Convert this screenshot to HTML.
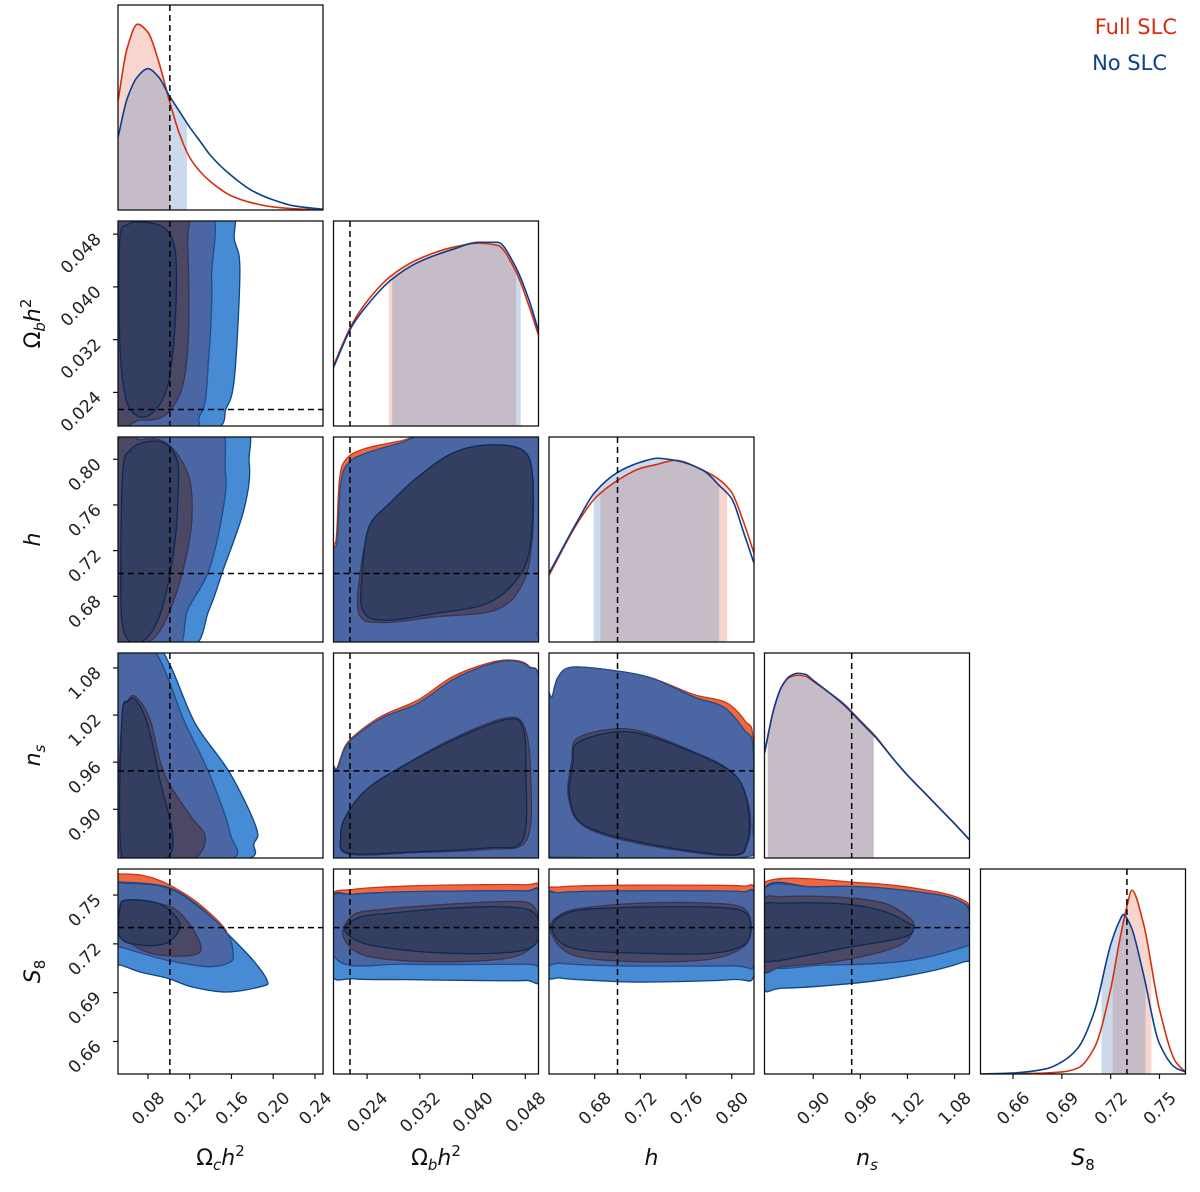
<!DOCTYPE html>
<html><head><meta charset="utf-8"><title>Corner plot</title>
<style>
html,body{margin:0;padding:0;background:#fff;}
svg{display:block;font-family:"DejaVu Sans","Liberation Sans",sans-serif;}
</style></head>
<body>
<svg id="fig" width="1200" height="1192" viewBox="0 0 1200 1192" xmlns="http://www.w3.org/2000/svg">
<text x="1177" y="34" text-anchor="end" font-size="21" fill="#d4300f">Full SLC</text>
<text x="1167" y="70" text-anchor="end" font-size="21" fill="#0b3f8e">No SLC</text>
</svg>
<script>
// ---------- axes data ----------
const ranges = [[0.0513,0.2477],[0.0189,0.0500],[0.640,0.8195],[0.838,1.099],[0.640,0.766]];
const ticks0 = [0.08,0.12,0.16,0.20,0.24];
const ticks1 = [0.024,0.032,0.040,0.048];
const ticks2 = [0.68,0.72,0.76,0.80];
const ticks3 = [0.90,0.96,1.02,1.08];
const ticks4 = [0.66,0.69,0.72,0.75];
const tickLabels0 = ["0.08","0.12","0.16","0.20","0.24"];
const tickLabels1 = ["0.024","0.032","0.040","0.048"];
const tickLabels2 = ["0.68","0.72","0.76","0.80"];
const tickLabels3 = ["0.90","0.96","1.02","1.08"];
const tickLabels4 = ["0.66","0.69","0.72","0.75"];
const truths = [0.101,0.0214,0.70,0.949,0.730];

// ---------- 1D marginals (fraction of panel height) ----------
const g0 = [0.0513,0.06,0.07,0.08,0.09,0.10,0.11,0.12,0.13,0.14,0.16,0.18,0.20,0.22,0.2477];
const red0 = [0.54,0.80,0.92,0.88,0.74,0.55,0.38,0.26,0.19,0.14,0.07,0.035,0.015,0.006,0.001];
const blue0 = [0.36,0.55,0.66,0.70,0.66,0.57,0.49,0.41,0.34,0.27,0.17,0.095,0.05,0.02,0.004];
const g1 = [0.0189,0.0218,0.0243,0.0275,0.0317,0.037,0.0409,0.0438,0.0465,0.0486,0.050];
const red1 = [0.30,0.51,0.63,0.74,0.825,0.885,0.905,0.895,0.77,0.59,0.45];
const blue1 = [0.29,0.50,0.61,0.72,0.81,0.875,0.91,0.91,0.79,0.62,0.47];
const g2 = [0.640,0.665,0.68,0.70,0.72,0.735,0.75,0.775,0.79,0.80,0.81,0.8195];
const red2 = [0.33,0.59,0.71,0.80,0.86,0.88,0.90,0.85,0.80,0.74,0.60,0.44];
const blue2 = [0.34,0.60,0.74,0.84,0.89,0.91,0.90,0.85,0.77,0.71,0.55,0.39];
const g3 = [0.838,0.85,0.86,0.87,0.88,0.89,0.90,0.92,0.94,0.96,0.98,1.00,1.02,1.04,1.06,1.08,1.099];
const red3 = [0.52,0.74,0.85,0.895,0.905,0.90,0.875,0.82,0.76,0.68,0.60,0.50,0.41,0.33,0.25,0.17,0.09];
const blue3 = [0.52,0.74,0.85,0.90,0.915,0.91,0.88,0.82,0.755,0.675,0.595,0.50,0.41,0.33,0.25,0.17,0.09];
const g4 = [0.640,0.66,0.68,0.69,0.70,0.71,0.72,0.725,0.728,0.73,0.733,0.74,0.75,0.76,0.766];
const red4 = [0,0.002,0.005,0.01,0.03,0.13,0.42,0.64,0.76,0.83,0.91,0.75,0.32,0.06,0.01];
const blue4 = [0,0.005,0.025,0.06,0.13,0.31,0.64,0.75,0.79,0.77,0.72,0.50,0.15,0.03,0.01];
const redShade = [[0.0513,0.1011],[0.0273,0.0466],[0.685,0.796],[0.842,0.977],[0.7213,0.745]];
const blueShade = [[0.0513,0.1174],[0.0278,0.0473],[0.679,0.789],[0.842,0.977],[0.7144,0.7414]];

// ---------- 2D contours [x, y] in data units ----------
const p10Bout = [[0.034,0.053],[0.151,0.053],[0.163,0.047],[0.168,0.0433],[0.166,0.0335],[0.162,0.0251],[0.155,0.0216],[0.139,0.0183],[0.034,0.0183]];
const p10Mid = [[0.034,0.053],[0.135,0.053],[0.141,0.0415],[0.140,0.0335],[0.138,0.0289],[0.135,0.0228],[0.129,0.0203],[0.120,0.0183],[0.034,0.0183]];
const p10Purple = [[0.034,0.053],[0.113,0.053],[0.118,0.0464],[0.119,0.0335],[0.1145,0.0259],[0.105,0.0221],[0.0915,0.0201],[0.072,0.0198],[0.034,0.020]];
const p10Navy = [[0.053,0.0471],[0.061,0.0495],[0.077,0.0498],[0.096,0.0489],[0.106,0.0456],[0.107,0.038],[0.103,0.0289],[0.096,0.0236],[0.082,0.0206],[0.068,0.0206],[0.058,0.0236],[0.053,0.032]];

const p20Bout = [[0.034,0.834],[0.163,0.834],[0.177,0.797],[0.172,0.756],[0.152,0.703],[0.1385,0.668],[0.118,0.633],[0.034,0.633]];
const p20Mid = [[0.034,0.834],[0.141,0.834],[0.154,0.791],[0.152,0.756],[0.1385,0.703],[0.118,0.668],[0.105,0.633],[0.034,0.633]];
const p20Purple = [[0.051,0.8125],[0.072,0.817],[0.0915,0.817],[0.107,0.806],[0.120,0.782],[0.122,0.747],[0.116,0.712],[0.105,0.677],[0.0915,0.650],[0.077,0.639],[0.051,0.639]];
const p20Navy = [[0.056,0.791],[0.063,0.808],[0.077,0.815],[0.096,0.814],[0.108,0.799],[0.109,0.773],[0.106,0.729],[0.098,0.6855],[0.0895,0.659],[0.077,0.642],[0.063,0.640],[0.055,0.659],[0.054,0.712]];

const p30Bout = [[0.034,1.1155],[0.082,1.1155],[0.101,1.084],[0.125,1.010],[0.1586,0.946],[0.1835,0.8775],[0.1816,0.857],[0.168,0.8355],[0.034,0.8355]];
const p30Mid = [[0.034,1.1155],[0.082,1.109],[0.1155,1.010],[0.1385,0.946],[0.1586,0.870],[0.155,0.8355],[0.034,0.8355]];
const p30Purple = [[0.055,1.014],[0.061,1.039],[0.0685,1.043],[0.082,1.014],[0.0954,0.946],[0.120,0.893],[0.1346,0.867],[0.129,0.842],[0.111,0.8355],[0.055,0.8355]];
const p30Navy = [[0.055,1.014],[0.061,1.037],[0.0685,1.039],[0.080,1.007],[0.0915,0.937],[0.103,0.874],[0.101,0.842],[0.082,0.8355],[0.055,0.842]];

const p40Red = [[0.040,0.763],[0.0532,0.763],[0.075,0.762],[0.098,0.757],[0.130,0.744],[0.1557,0.726],[0.123,0.725],[0.040,0.728]];
const p40Bout = [[0.040,0.758],[0.0532,0.758],[0.098,0.755],[0.130,0.7426],[0.1557,0.7266],[0.1806,0.710],[0.194,0.6977],[0.190,0.694],[0.1557,0.6904],[0.123,0.6934],[0.098,0.699],[0.0724,0.7027],[0.0532,0.707],[0.040,0.707]];
const p40Mid = [[0.040,0.7575],[0.0532,0.7575],[0.098,0.7545],[0.130,0.742],[0.1557,0.7266],[0.1615,0.714],[0.158,0.7085],[0.1365,0.706],[0.098,0.710],[0.0724,0.7145],[0.0532,0.718],[0.040,0.718]];
const p40Purple = [[0.0532,0.743],[0.060,0.7469],[0.0887,0.7451],[0.1107,0.739],[0.130,0.7205],[0.1232,0.7131],[0.082,0.7143],[0.0532,0.7266]];
const p40Navy = [[0.0532,0.742],[0.060,0.7469],[0.0887,0.7451],[0.105,0.738],[0.1107,0.730],[0.098,0.7205],[0.0724,0.7193],[0.0532,0.7242]];

const p21Red = [[0.0185,0.638],[0.0185,0.72],[0.0193,0.73],[0.0198,0.782],[0.0208,0.80],[0.0235,0.809],[0.029,0.816],[0.0343,0.822],[0.052,0.822],[0.052,0.66],[0.0498,0.648],[0.048,0.638]];
const p21Mid = [[0.0185,0.638],[0.0185,0.718],[0.0194,0.7266],[0.020,0.779],[0.0212,0.797],[0.0239,0.8055],[0.029,0.8142],[0.0343,0.822],[0.052,0.822],[0.052,0.66],[0.0498,0.648],[0.048,0.638]];
const p21Purple = [[0.0230,0.703],[0.0243,0.735],[0.0275,0.757],[0.0317,0.782],[0.037,0.803],[0.0423,0.811],[0.0476,0.807],[0.0491,0.7845],[0.0490,0.7266],[0.0475,0.690],[0.0435,0.668],[0.0343,0.662],[0.0265,0.657],[0.0228,0.664]];
const p21Navy = [[0.0233,0.703],[0.0243,0.741],[0.0275,0.762],[0.0317,0.7845],[0.037,0.8055],[0.0423,0.8125],[0.0476,0.808],[0.0491,0.7845],[0.0488,0.7266],[0.047,0.697],[0.0423,0.674],[0.0343,0.665],[0.0265,0.659],[0.0233,0.668]];

const p31Red = [[0.0185,0.83],[0.0185,0.950],[0.0194,0.952],[0.0207,0.981],[0.0228,0.999],[0.0265,1.020],[0.0317,1.039],[0.037,1.069],[0.0423,1.086],[0.0459,1.090],[0.0486,1.082],[0.0502,1.052],[0.0502,0.845],[0.049,0.83]];
const p31Mid = [[0.0185,0.83],[0.0185,0.950],[0.0194,0.950],[0.0207,0.979],[0.0228,0.997],[0.0265,1.0175],[0.0317,1.035],[0.037,1.065],[0.0423,1.084],[0.0459,1.089],[0.0486,1.081],[0.0502,1.052],[0.0502,0.845],[0.049,0.83]];
const p31Purple = [[0.020,0.865],[0.0207,0.890],[0.0239,0.925],[0.0292,0.954],[0.037,0.990],[0.0449,1.016],[0.0478,1.006],[0.0488,0.946],[0.0482,0.861],[0.0423,0.849],[0.0317,0.845],[0.0212,0.843]];
const p31Navy = [[0.020,0.865],[0.0207,0.890],[0.0239,0.925],[0.0292,0.954],[0.037,0.988],[0.0449,1.014],[0.0476,1.005],[0.0481,0.946],[0.0476,0.861],[0.0423,0.851],[0.0317,0.846],[0.0212,0.844]];

const p32Red = [[0.638,0.85],[0.638,1.035],[0.6426,1.043],[0.6478,1.068],[0.660,1.081],[0.695,1.077],[0.730,1.067],[0.767,1.046],[0.795,1.036],[0.812,1.012],[0.8186,0.99],[0.8186,0.874],[0.811,0.8393],[0.645,0.8393],[0.639,0.845]];
const p32Mid = [[0.638,0.85],[0.638,1.035],[0.6426,1.043],[0.6478,1.068],[0.660,1.081],[0.695,1.077],[0.730,1.067],[0.767,1.043],[0.793,1.030],[0.811,1.001],[0.8186,0.979],[0.8186,0.874],[0.811,0.8393],[0.645,0.8393],[0.639,0.845]];
const p32Purple = [[0.6644,0.99],[0.695,1.002],[0.7236,0.998],[0.767,0.973],[0.793,0.955],[0.808,0.9335],[0.816,0.895],[0.814,0.857],[0.799,0.841],[0.7236,0.855],[0.671,0.878],[0.657,0.916],[0.660,0.962]];
const p32Navy = [[0.6644,0.984],[0.695,0.998],[0.7236,0.995],[0.767,0.972],[0.793,0.954],[0.808,0.9335],[0.815,0.895],[0.813,0.857],[0.799,0.842],[0.7236,0.857],[0.671,0.880],[0.658,0.916],[0.661,0.959]];

const p41Red = [[0.0185,0.749],[0.022,0.7535],[0.030,0.7555],[0.040,0.7563],[0.048,0.7563],[0.0502,0.754],[0.0502,0.72],[0.0185,0.72]];
const p41Bout = [[0.0185,0.747],[0.022,0.7505],[0.030,0.752],[0.040,0.7525],[0.048,0.7525],[0.0502,0.750],[0.0502,0.700],[0.048,0.6975],[0.040,0.6975],[0.030,0.698],[0.022,0.6985],[0.0185,0.7025]];
const p41Mid = [[0.0185,0.747],[0.022,0.7505],[0.030,0.752],[0.040,0.7525],[0.048,0.7525],[0.0502,0.750],[0.0502,0.708],[0.048,0.7075],[0.030,0.7075],[0.0195,0.710]];
const p41Purple = [[0.0203,0.727],[0.022,0.738],[0.026,0.741],[0.035,0.744],[0.045,0.746],[0.049,0.744],[0.0502,0.730],[0.049,0.718],[0.045,0.711],[0.035,0.709],[0.026,0.711],[0.022,0.716]];
const p41Navy = [[0.0206,0.729],[0.023,0.7365],[0.028,0.739],[0.035,0.7415],[0.044,0.7428],[0.049,0.740],[0.0502,0.729],[0.049,0.718],[0.044,0.7143],[0.035,0.7145],[0.028,0.717],[0.023,0.721]];

const p42Red = [[0.638,0.751],[0.65,0.755],[0.70,0.756],[0.78,0.756],[0.81,0.7555],[0.82,0.753],[0.82,0.72],[0.638,0.72]];
const p42Bout = [[0.638,0.748],[0.65,0.7515],[0.70,0.7525],[0.78,0.7525],[0.81,0.752],[0.82,0.749],[0.82,0.702],[0.80,0.698],[0.72,0.6965],[0.68,0.6975],[0.65,0.699],[0.638,0.703]];
const p42Mid = [[0.638,0.748],[0.65,0.7515],[0.70,0.7525],[0.78,0.7525],[0.81,0.752],[0.82,0.749],[0.82,0.708],[0.80,0.7065],[0.70,0.7065],[0.65,0.708],[0.638,0.710]];
const p42Purple = [[0.641,0.730],[0.65,0.738],[0.67,0.742],[0.72,0.745],[0.78,0.745],[0.81,0.742],[0.817,0.730],[0.81,0.718],[0.78,0.7105],[0.72,0.709],[0.67,0.7115],[0.65,0.718]];
const p42Navy = [[0.6426,0.730],[0.65,0.737],[0.67,0.741],[0.72,0.7426],[0.78,0.7426],[0.81,0.740],[0.8168,0.730],[0.81,0.719],[0.78,0.714],[0.72,0.7143],[0.67,0.716],[0.65,0.721]];

const p43Red = [[0.836,0.7574],[0.966,0.7574],[1.0445,0.753],[1.0863,0.748],[1.1,0.741],[1.1,0.72],[0.836,0.72]];
const p43Bout = [[0.836,0.753],[0.90,0.755],[0.966,0.755],[1.0445,0.7512],[1.0863,0.7465],[1.1,0.738],[1.1,0.712],[1.0914,0.7088],[1.0445,0.7027],[0.966,0.6965],[0.862,0.6928],[0.836,0.696]];
const p43Mid = [[0.836,0.753],[0.90,0.755],[0.966,0.755],[1.0445,0.7512],[1.0863,0.7465],[1.1,0.738],[1.1,0.722],[1.0914,0.718],[1.018,0.7095],[0.914,0.707],[0.836,0.7088]];
const p43Purple = [[0.836,0.705],[0.836,0.745],[0.862,0.749],[0.94,0.7485],[0.99,0.745],[1.02,0.737],[1.028,0.730],[1.01,0.719],[0.94,0.710],[0.862,0.706]];
const p43Navy = [[0.836,0.712],[0.836,0.742],[0.862,0.745],[0.94,0.7445],[0.99,0.740],[1.02,0.733],[1.028,0.730],[1.015,0.724],[0.94,0.7174],[0.862,0.7101],[0.85,0.7095]];

// ---------- geometry ----------
const COLS = [118,333.5,549,764.5,980.5];
const ROWS = [5,221,437,653,869];
const S = 205;
const NS = "http://www.w3.org/2000/svg";
const svg = document.getElementById('fig');
const defs = document.createElementNS(NS,'defs');
svg.appendChild(defs);

function sx(j,v){const r=ranges[j];return COLS[j]+(v-r[0])/(r[1]-r[0])*S;}
function sy(i,v){const r=ranges[i];return ROWS[i]+S-(v-r[0])/(r[1]-r[0])*S;}
function sd(i,f){return ROWS[i]+S-f*S*0.985;}

function cr(pts, closed){
  const n=pts.length; const f=p=>p[0].toFixed(2)+','+p[1].toFixed(2);
  let d='M'+f(pts[0]);
  const m = closed? n : n-1;
  for(let k=0;k<m;k++){
    const p0 = closed? pts[(k-1+n)%n] : pts[Math.max(k-1,0)];
    const p1 = pts[k];
    const p2 = pts[(k+1)%n];
    const p3 = closed? pts[(k+2)%n] : pts[Math.min(k+2,n-1)];
    const c1=[p1[0]+(p2[0]-p0[0])/6, p1[1]+(p2[1]-p0[1])/6];
    const c2=[p2[0]-(p3[0]-p1[0])/6, p2[1]-(p3[1]-p1[1])/6];
    d+='C'+f(c1)+' '+f(c2)+' '+f(p2);
  }
  if(closed) d+='Z';
  return d;
}
// monotone cubic (Fritsch-Carlson) for 1D curves
function mono(pts){
  const n=pts.length; const f=p=>p[0].toFixed(2)+','+p[1].toFixed(2);
  const dx=[],dy=[],m=[],t=new Array(n);
  for(let k=0;k<n-1;k++){dx.push(pts[k+1][0]-pts[k][0]);dy.push(pts[k+1][1]-pts[k][1]);m.push(dy[k]/dx[k]);}
  t[0]=m[0]; t[n-1]=m[n-2];
  for(let k=1;k<n-1;k++){
    if(m[k-1]*m[k]<=0) t[k]=0;
    else { const w1=2*dx[k]+dx[k-1], w2=dx[k]+2*dx[k-1]; t[k]=(w1+w2)/(w1/m[k-1]+w2/m[k]); }
  }
  let d='M'+f(pts[0]);
  for(let k=0;k<n-1;k++){
    const h=dx[k]/3;
    d+='C'+f([pts[k][0]+h,pts[k][1]+t[k]*h])+' '+f([pts[k+1][0]-h,pts[k+1][1]-t[k+1]*h])+' '+f(pts[k+1]);
  }
  return d;
}
function el(tag, attrs, parent){
  const e=document.createElementNS(NS,tag);
  for(const k in attrs) e.setAttribute(k,attrs[k]);
  (parent||svg).appendChild(e);
  return e;
}
function clipFor(i,j){
  const id='clip'+i+j;
  const cp=el('clipPath',{id:id},defs);
  el('rect',{x:COLS[j],y:ROWS[i],width:S,height:S},cp);
  return 'url(#'+id+')';
}

const axisLabels = [
  ['Ω',['c','sub'],'h',['2','sup']],
  ['Ω',['b','sub'],'h',['2','sup']],
  ['h'],
  ['n',['s','sub']],
  ['S',['8','sub']]
];

// ---------- 1D panels ----------
const grids=[g0,g1,g2,g3,g4], reds=[red0,red1,red2,red3,red4], blues=[blue0,blue1,blue2,blue3,blue4];
for(let k=0;k<5;k++){
  const g=el('g',{'clip-path':clipFor(k,k)});
  
  
  const bottom=ROWS[k]+S;
  const series=[['red',reds[k],redShade[k],'rgba(235,120,90,0.3)','#d4300f'],['blue',blues[k],blueShade[k],'rgba(80,130,190,0.3)','#0b3f8e']];
  for(const s of series){
    const pts=grids[k].map((v,q)=>[sx(k,v),sd(k,s[1][q])]);
    const curve=mono(pts);
    const cid='sh'+k+s[0];
    const cp=el('clipPath',{id:cid},defs);
    const x0=sx(k,s[2][0]), x1=sx(k,s[2][1]);
    el('rect',{x:x0,y:ROWS[k],width:x1-x0,height:S},cp);
    const fill=el('path',{d:curve+'L'+pts[pts.length-1][0]+','+bottom+'L'+pts[0][0]+','+bottom+'Z',fill:s[3],'clip-path':'url(#'+cid+')'},g);
    
    
  }
  for(const s of series){
    const pts=grids[k].map((v,q)=>[sx(k,v),sd(k,s[1][q])]);
    const line=el('path',{d:mono(pts),fill:'none',stroke:s[4],'stroke-width':1.6},g);
    
    
  }
  const tx=sx(k,truths[k]);
  const tl=el('line',{x1:tx,x2:tx,y1:ROWS[k],y2:bottom,stroke:'#000','stroke-width':1.5,'stroke-dasharray':'6,4'},g);
  
  
}

// ---------- 2D panels ----------
const panels2d = [
  [1,0,null,p10Bout,p10Mid,p10Purple,p10Navy],
  [2,0,null,p20Bout,p20Mid,p20Purple,p20Navy],
  [3,0,null,p30Bout,p30Mid,p30Purple,p30Navy],
  [4,0,p40Red,p40Bout,p40Mid,p40Purple,p40Navy],
  [2,1,p21Red,null,p21Mid,p21Purple,p21Navy],
  [3,1,p31Red,null,p31Mid,p31Purple,p31Navy],
  [3,2,p32Red,null,p32Mid,p32Purple,p32Navy],
  [4,1,p41Red,p41Bout,p41Mid,p41Purple,p41Navy],
  [4,2,p42Red,p42Bout,p42Mid,p42Purple,p42Navy],
  [4,3,p43Red,p43Bout,p43Mid,p43Purple,p43Navy]
];
const layerStyle = [
  ['full-slc-95',  '#f0683f','#c8361a'],
  ['no-slc-95',    '#468bd3','#0d4585'],
  ['overlap-95',   '#4a66a3','#1f4c8c'],
  ['full-slc-68',  '#4b4866','#3b3352'],
  ['no-slc-68',    '#333e60','#0b2a55']
];
for(const p of panels2d){
  const i=p[0], j=p[1];
  const g=el('g',{'clip-path':clipFor(i,j)});
  
  
  for(let L=0;L<5;L++){
    const poly=p[2+L]; if(!poly) continue;
    const pts=poly.map(q=>[sx(j,q[0]),sy(i,q[1])]);
    const path=el('path',{d:cr(pts,true),fill:layerStyle[L][1],stroke:layerStyle[L][2],'stroke-width':1.3},g);
    
    
  }
  const tx=sx(j,truths[j]), ty=sy(i,truths[i]);
  const v=el('line',{x1:tx,x2:tx,y1:ROWS[i],y2:ROWS[i]+S,stroke:'#000','stroke-width':1.5,'stroke-dasharray':'6,4'},g);
  
  
  const h=el('line',{x1:COLS[j],x2:COLS[j]+S,y1:ty,y2:ty,stroke:'#000','stroke-width':1.5,'stroke-dasharray':'6,4'},g);
  
  
}

// ---------- frames ----------
for(let i=0;i<5;i++) for(let j=0;j<=i;j++){
  const fr=el('rect',{x:COLS[j],y:ROWS[i],width:S,height:S,fill:'none',stroke:'#111','stroke-width':1.3});
  
  
}

// ---------- ticks ----------
const allTicks=[ticks0,ticks1,ticks2,ticks3,ticks4];
const allTickLabels=[tickLabels0,tickLabels1,tickLabels2,tickLabels3,tickLabels4];
const FS=17;
const bottomY=ROWS[4]+S;
for(let j=0;j<5;j++){
  allTicks[j].forEach((v,q)=>{
    const x=sx(j,v);
    const t=el('line',{x1:x,x2:x,y1:bottomY,y2:bottomY+5,stroke:'#111','stroke-width':1.2});
    
    
    const lab=el('text',{'font-size':FS,fill:'#222','text-anchor':'end'});
    lab.textContent=allTickLabels[j][q];
    
    
    const L=lab.getComputedTextLength();
    const w=(L+12)*0.707;
    const ex=x+w/2, ey=bottomY+16+9;
    lab.setAttribute('transform','translate('+ex.toFixed(1)+','+ey.toFixed(1)+') rotate(-45)');
  });
}
for(let i=1;i<5;i++){
  allTicks[i].forEach((v,q)=>{
    const y=sy(i,v);
    const t=el('line',{x1:COLS[0]-5,x2:COLS[0],y1:y,y2:y,stroke:'#111','stroke-width':1.2});
    
    
    const lab=el('text',{'font-size':FS,fill:'#222','text-anchor':'end',transform:'translate('+(COLS[0]-16)+','+(y+6).toFixed(1)+') rotate(-45)'});
    lab.textContent=allTickLabels[i][q];
    
    
  });
}

// ---------- axis titles ----------
function mathLabel(parts, attrs, name){
  const t=el('text',attrs);
  
  
  parts.forEach(pp=>{
    const ts=document.createElementNS(NS,'tspan');
    if(typeof pp==='string'){
      ts.textContent=pp;
      if(pp!=='Ω') ts.setAttribute('font-style','italic');
    } else {
      ts.textContent=pp[0];
      ts.setAttribute('font-size','15');
      if(pp[1]==='sub'){ ts.setAttribute('dy','5'); if(pp[0]!=='8') ts.setAttribute('font-style','italic'); }
      else { ts.setAttribute('dy','-9'); }
    }
    t.appendChild(ts);
  });
  let acc=0; const kids=t.childNodes;
  for(let k=0;k<kids.length;k++){
    const dy=parseFloat(kids[k].getAttribute('dy')||'0');
    if(dy!==0){acc+=dy;}
    else if(acc!==0){kids[k].setAttribute('dy',String(-acc)); acc=0;}
  }
  return t;
}
for(let j=0;j<5;j++){
  mathLabel(axisLabels[j],{x:COLS[j]+S/2,y:1165,'font-size':22,'text-anchor':'middle',fill:'#111'},'x-axis-title-'+j);
}
for(let i=1;i<5;i++){
  const cy=ROWS[i]+S/2;
  mathLabel(axisLabels[i],{x:0,y:0,'font-size':22,'text-anchor':'middle',fill:'#111',transform:'translate(40,'+cy+') rotate(-90)'},'y-axis-title-'+i);
}
</script>
</body></html>
